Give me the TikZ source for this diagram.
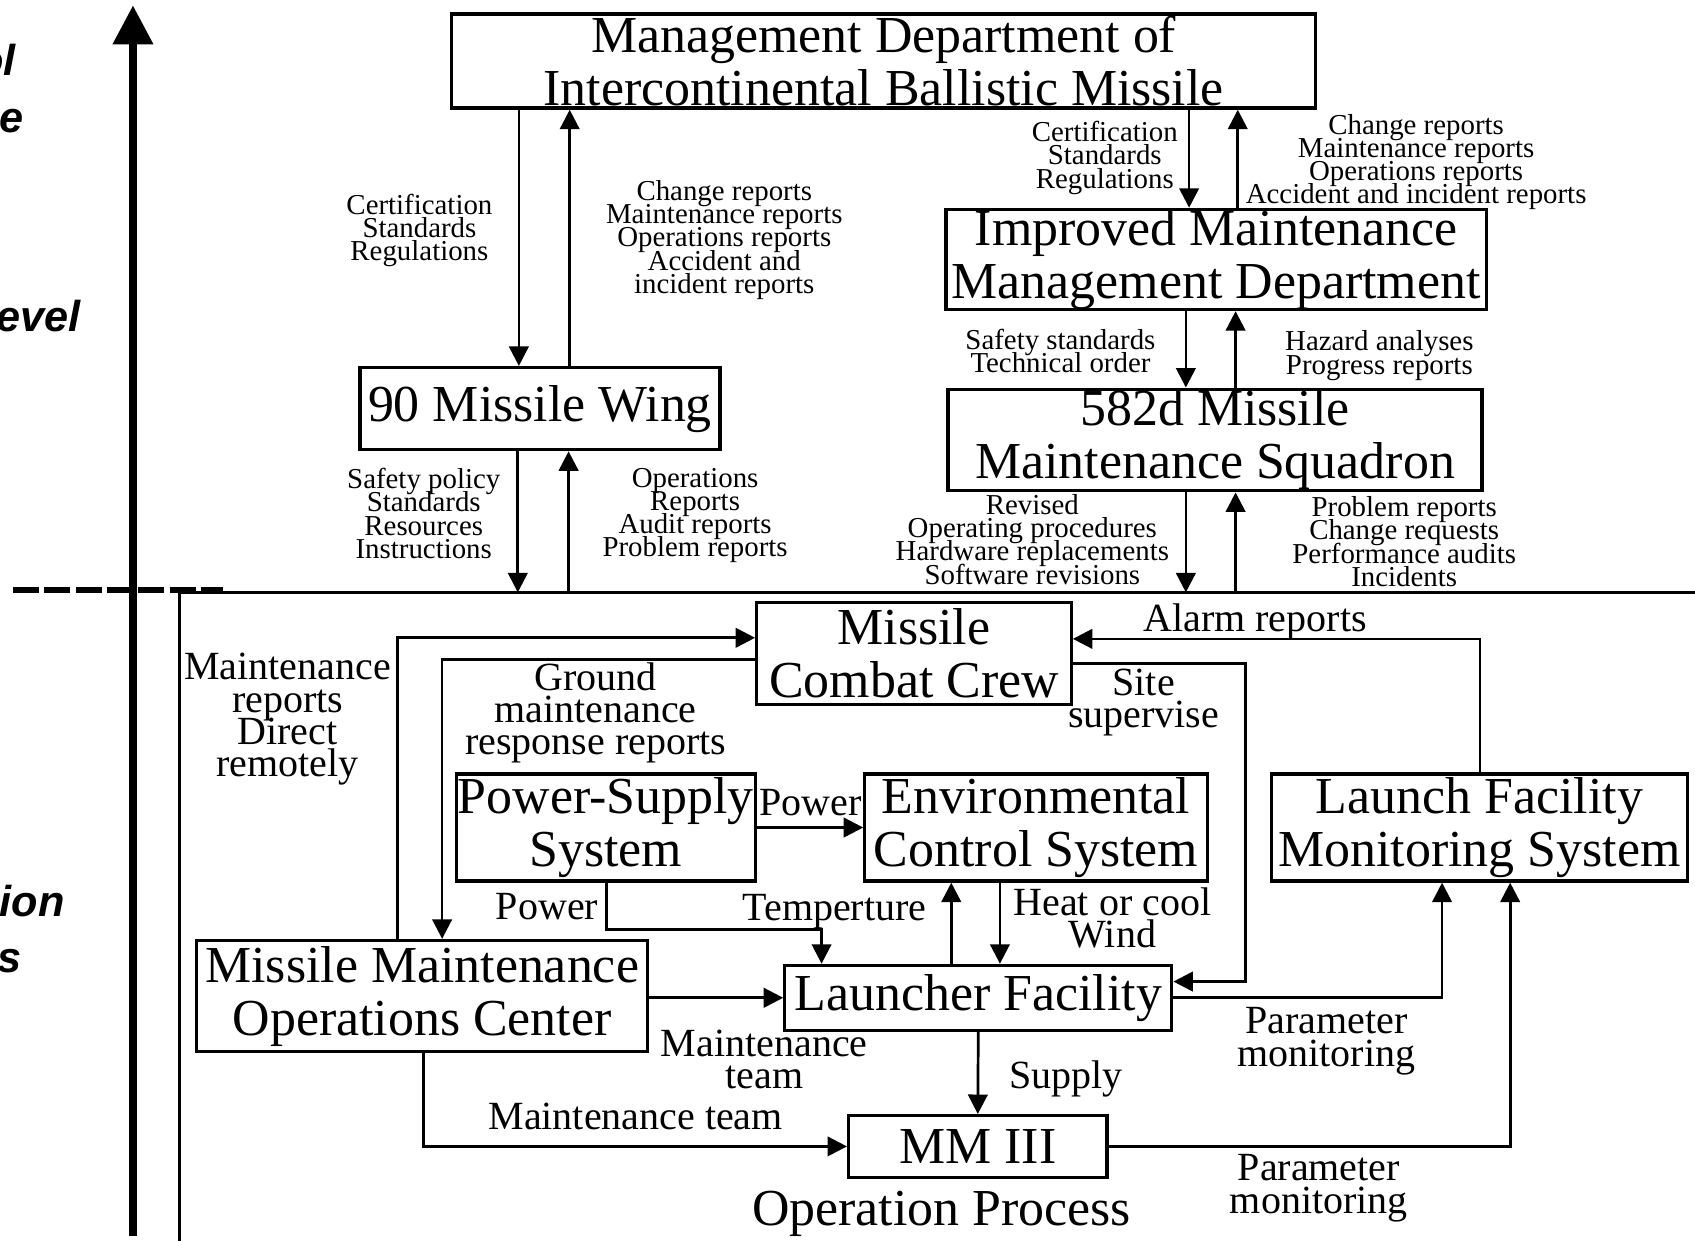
\documentclass[tikz,border=0pt]{standalone}
\usepackage{fontspec}
\setmainfont{Liberation Serif}
\newfontfamily\sidefont{Liberation Sans}
\usetikzlibrary{arrows.meta}
\lineskiplimit=-40pt

\begin{document}
\begin{tikzpicture}[x=0.5pt, y=-0.5pt,
  >={Triangle[length=9pt,width=9pt]},
  flow/.style={line width=1.25pt},
  unit/.style={draw, line width=1.5pt, inner sep=0pt, align=center,
    font=\fontsize{24}{24.5}\selectfont},
  note/.style={inner sep=0pt, align=center, font=\fontsize{13.35}{10.75}\selectfont},
  tag/.style={inner sep=0pt, align=center, font=\fontsize{18.5}{15}\selectfont},
  side/.style={inner sep=0pt, anchor=base east,
    font=\sidefont\bfseries\itshape\fontsize{20}{24}\selectfont}]

\useasboundingbox (0,0) rectangle (1568,1148);

% eixo vertical e rotulos cortados
\coordinate (axisbot) at (123,1143);
\coordinate (axistop) at (123,5);
\draw[line width=3.4pt, -{Triangle[length=18pt,width=18pt]}] (axisbot) -- (axistop);
\node[side] (sideA) at (15,70) {ol};
\node[side] (sideB) at (22,123) {e};
\node[side] (sideC) at (75,307) {evel};
\node[side] (sideD) at (60,848) {ion};
\node[side] (sideE) at (20,900) {s};

% separacao dos niveis
\coordinate (dashL) at (12,546);
\coordinate (dashR) at (206,546);
\draw[line width=3pt, dash pattern=on 12pt off 2.5pt] (dashL) -- (dashR);
\coordinate (sepL) at (166,548);
\coordinate (sepR) at (1568,548);
\coordinate (frameB) at (166,1148);
\draw[flow] (sepR) -- (sepL) -- (frameB);

% nivel de gestao
\node[unit, minimum width=399.5pt, minimum height=43.5pt] (mgmt) at (817.5,56.5)
  {Management Department of\\Intercontinental Ballistic Missile};
\node[unit, minimum width=166.5pt, minimum height=38pt] (wing) at (499.5,378)
  {90 Missile Wing};
\node[unit, minimum width=250pt, minimum height=46pt] (imd) at (1125,240)
  {Improved Maintenance\\Management Department};
\node[unit, minimum width=247pt, minimum height=47pt] (sqd) at (1124,407)
  {582d Missile\\Maintenance Squadron};

% fluxos verticais
\draw[flow, ->] (480,0 |- mgmt.south) -- (480,0 |- wing.north);
\draw[flow, ->] (527,0 |- wing.north) -- (527,0 |- mgmt.south);
\draw[flow, ->] (479,0 |- wing.south) -- (479,0 |- sepL);
\draw[flow, ->] (526,0 |- sepL) -- (526,0 |- wing.south);
\draw[flow, ->] (1100,0 |- mgmt.south) -- (1100,0 |- imd.north);
\draw[flow, ->] (1145,0 |- imd.north) -- (1145,0 |- mgmt.south);
\draw[flow, ->] (1097,0 |- imd.south) -- (1097,0 |- sqd.north);
\draw[flow, ->] (1143,0 |- sqd.north) -- (1143,0 |- imd.south);
\draw[flow, ->] (1097,0 |- sqd.south) -- (1097,0 |- sepL);
\draw[flow, ->] (1143,0 |- sepL) -- (1143,0 |- sqd.south);

\node[note] (certA) at (388,213) {Certification\\Standards\\Regulations};
\node[note] (repA) at (670,222)
  {Change reports\\Maintenance reports\\Operations reports\\Accident and\\incident reports};
\node[note] (policy) at (392,475) {Safety policy\\Standards\\Resources\\Instructions};
\node[note] (opsrep) at (643,477) {Operations\\Reports\\Audit reports\\Problem reports};
\node[note] (certB) at (1022,146) {Certification\\Standards\\Regulations};
\node[note] (repB) at (1310,150)
  {Change reports\\Maintenance reports\\Operations reports\\Accident and incident reports};
\node[note] (techord) at (981,325) {Safety standards\\Technical order};
\node[note] (hazard) at (1276,329) {Hazard analyses\\Progress reports};
\node[note] (revised) at (955,499)
  {Revised\\Operating procedures\\Hardware replacements\\Software revisions};
\node[note] (problem) at (1299,501)
  {Problem reports\\Change requests\\Performance audits\\Incidents};

% processo de operacao
\node[unit, minimum width=145.5pt, minimum height=47.5pt] (crew) at (845.5,604.5)
  {Missile\\Combat Crew};
\node[unit, minimum width=138.5pt, minimum height=49.5pt] (pss) at (560.5,765.5)
  {Power-Supply\\System};
\node[unit, minimum width=158.5pt, minimum height=49.5pt] (ecs) at (958.5,765.5)
  {Environmental\\Control System};
\node[unit, minimum width=192.5pt, minimum height=49.5pt] (lfms) at (1368.5,765.5)
  {Launch Facility\\Monitoring System};
\node[unit, minimum width=208.5pt, minimum height=51.5pt] (mmoc) at (390.5,921.5)
  {Missile Maintenance\\Operations Center};
\node[unit, minimum width=179pt, minimum height=30pt] (lf) at (905,923)
  {Launcher Facility};
\node[unit, minimum width=119.5pt, minimum height=28.5pt] (mm) at (904.5,1060.5)
  {MM III};
\node[inner sep=0pt, font=\fontsize{24}{24.5}\selectfont] (process) at (871,1123)
  {Operation Process};

% conexoes
\draw[flow, ->] (368,0 |- mmoc.north) |- (368,590 -| crew.west);
\draw[flow, ->] (409,610 -| crew.west) -| (409,0 |- mmoc.north);
\draw[flow, ->] (1369,0 |- lfms.north) |- (1369,591 -| crew.east);
\draw[flow, ->] (1152,614 -| crew.east) -| (1152,908) -- (1152,908 -| lf.east);
\draw[flow, ->] (pss.east) -- (ecs.west);
\draw[flow, ->] (561,0 |- pss.south) |- (760,860) -- (760,0 |- lf.north);
\draw[flow, ->] (880,0 |- lf.north) -- (880,0 |- ecs.south);
\draw[flow, ->] (925,0 |- ecs.south) -- (925,0 |- lf.north);
\draw[flow, ->] (lf.west -| mmoc.east) -- (lf.west);
\draw[flow, ->] (lf.south) -- (mm.north);
\draw[flow, ->] (392,0 |- mmoc.south) |- (mm.west);
\draw[flow, ->] (lf.east) -| (1334,0 |- lfms.south);
\draw[flow, ->] (mm.east) -| (1397,0 |- lfms.south);

\node[tag] (direct) at (266,665.5) {Maintenance\\reports\\Direct\\remotely};
\node[tag] (ground) at (551,659.5) {Ground\\maintenance\\response reports};
\node[tag] (alarm) at (1161,575) {Alarm reports};
\node[tag] (site) at (1058,650) {Site\\supervise};
\node[tag] (powerA) at (750,742) {Power};
\node[tag] (powerB) at (506,839) {Power};
\node[tag] (temp) at (772,843) {Temperture};
\node[tag] (heat) at (1029,849) {Heat or cool\\Wind};
\node[tag] (teamA) at (707,980) {Maintenance\\team};
\node[tag] (supply) at (986,998) {Supply};
\node[tag] (teamB) at (588,1033) {Maintenance team};
\node[tag] (paramA) at (1227,963) {Parameter\\monitoring};
\node[tag] (paramB) at (1220,1099) {Parameter\\monitoring};

\end{tikzpicture}
\end{document}
